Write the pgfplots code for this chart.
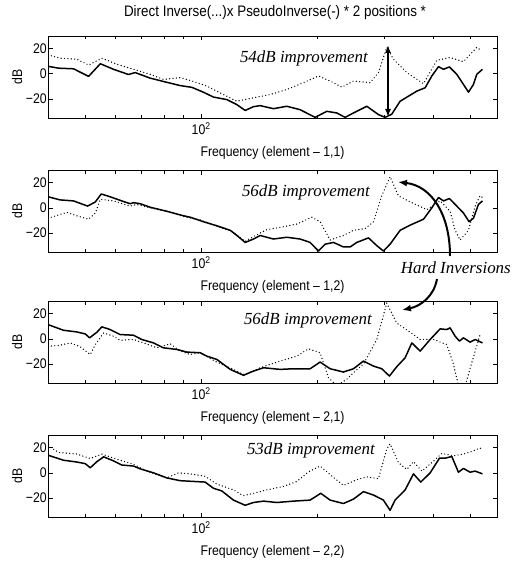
\documentclass[border=0pt]{standalone}
\usepackage{pgfplots}
\pgfplotsset{compat=1.18}
\usepackage{fontspec}
\setmainfont{Liberation Sans}[FakeStretch=0.88]
\newfontfamily\annotfont{Liberation Serif}
\usetikzlibrary{arrows.meta}

\pgfplotsset{
  mypanel/.style={
    width=449bp, height=82bp, scale only axis,
    xmin=40, xmax=587, ymin=-35, ymax=30,
    xtick={100}, xticklabels={10\textsuperscript{2}},
    minor xtick={50,60,70,80,90,200,300,400,500},
    ytick={-20,0,20}, yticklabels={−20,0,20},
    yticklabel style={inner xsep=1bp},
    tick align=inside, major tick length=4.5bp, minor tick length=3.5bp,
    tick style={black, line width=0.7pt},
    axis line style={line width=0.9pt},
    ylabel={dB},
    y label style={at={(axis description cs:-0.069,0.5)}, anchor=center},
    x label style={at={(axis description cs:0.5,-0.43)}, anchor=center},
    anchor=north west,
  },
  solidline/.style={black, line width=1.5pt, no marks, line join=round},
  dotline/.style={black, line width=1.4pt, no marks, line cap=round, dash pattern=on 0pt off 3.4pt},
}

\begin{document}
\fontsize{14}{16}\selectfont
\begin{tikzpicture}[x=1bp,y=1bp]
\path[use as bounding box] (0,0) rectangle (512,-565);
\node[font=\fontsize{15.3}{17}\selectfont] at (275,-13) {Direct Inverse(...)x PseudoInverse(-) * 2 positions *};

% element 1,1
\begin{axis}[xmode=log, mypanel, at={(48bp,-36bp)}, xlabel={Frequency (element -- 1,1)}]
\addplot[dotline] coordinates {
(40,15) (43,12.4) (47.5,11.6) (51,7) (55.2,12.4) (60.4,7.6) (66.7,3.6) (73.7,-0.4)
(79.8,-4.4) (88.2,-3) (95.5,-6) (103.4,-9.7) (112,-15) (123.8,-21.7) (136.8,-19)
(151.1,-16.4) (166.9,-12.4) (184.4,-7) (201.7,-1.7) (216.3,-5.7) (232,-10.5)
(248.7,-5.7) (274.8,-7) (288.8,1) (303.5,21) (315.9,11.6) (342.2,1) (378.2,-7.8)
(409.5,10.8) (443.4,12.9) (480.2,9.7) (520,21) (535.8,18.3)};
\addplot[solidline] coordinates {
(40,6) (42.6,4.5) (46.6,4) (51,-2) (54.7,8) (59.2,3.6) (64.7,-0.5) (67.4,1) (73.7,-3.4)
(81.4,-6.7) (88.2,-9.3) (94.6,-10.7) (101.4,-14.6) (107.6,-18.4) (116.6,-20.4)
(123.8,-24.4) (130.1,-29) (136.8,-26) (142.3,-25.2) (154.1,-27.6) (166.9,-25.7)
(180.7,-28.4) (197.8,-34.5) (212,-29.7) (225.1,-31) (236.6,-34.5) (248.7,-31)
(269.4,-25.7) (288.8,-32.3) (300.5,-34.5) (312.7,-32) (328.8,-21.7) (345.6,-17.7)
(363.3,-13.7) (382,-11) (397.4,-1.7) (413.6,5.7) (426.1,3.6) (441.6,5.5) (461.4,-0.4)
(480.2,-8.4) (494.8,-14.5) (509.8,-8.4) (520,-0.4) (538,3.6)};
\end{axis}

% element 1,2
\begin{axis}[xmode=log, mypanel, at={(48bp,-170bp)}, xlabel={Frequency (element -- 1,2)}]
\addplot[dotline] coordinates {
(40,-8.2) (44.8,-3.6) (47.5,-6.3) (51,-9) (53.1,-4.1) (54.7,6.8) (59.2,5.5) (65.4,1.4)
(68,2.7) (73.7,0) (81.4,-2.7) (90,-6.8) (99.4,-9.6) (109.8,-14.5) (121.3,-19.2)
(130.1,-26.6) (136.8,-22.7) (148.1,-17.3) (163.6,-15) (177.2,-12.9) (193.9,-7.4)
(203.7,-11) (216.3,-25.5) (234.2,-21.9) (248.7,-17.8) (266.7,-16.4) (280.4,-11)
(294.6,9.6) (309.6,24.7) (325.5,9.6) (349.1,4.7) (385.8,-1.4) (417.7,5.5) (443.4,-2.7)
(456.8,-17.8) (470.7,-25.5) (494.8,-17.8) (514.9,1.4) (530.5,9.6) (538,8.2)};
\addplot[solidline] coordinates {
(40,8.8) (43,6.3) (46.6,5.5) (50.7,1.4) (53.1,4.7) (55,11) (58,8.8) (62.2,5.5) (65.4,3.3)
(66.7,4.1) (69.4,3.3) (73.7,0.5) (81.4,-2.7) (90,-6.3) (93.6,-7.4) (101.4,-11)
(109.8,-14.2) (119,-17.8) (123.8,-21.9) (130.1,-27.4) (136.8,-24.7) (142.3,-21.9)
(154.1,-24.7) (166.9,-23.3) (180.7,-24.7) (191.9,-27.4) (201.7,-34.2) (209.9,-28.8)
(220.7,-27.4) (234.2,-31) (243.8,-31) (253.7,-27.4) (272.1,-23.8) (286,-30)
(297.5,-34.2) (309.6,-28.8) (328.8,-17.8) (349.1,-13.7) (378.2,-9) (397.4,0)
(413.6,8.2) (426.1,5.5) (441.6,7.4) (461.4,1.4) (480.2,-4.1) (496.7,-11) (509.8,-8.2)
(525.2,2.7) (538,5.5)};
\end{axis}

% element 2,1
\begin{axis}[xmode=log, mypanel, at={(48bp,-301bp)}, xlabel={Frequency (element -- 2,1)}]
\addplot[dotline] coordinates {
(40,-5.8) (42.6,-5.3) (45.7,-3.2) (48.5,-6.3) (51.5,-12.4) (53.1,-4.5) (55.8,4.7)
(59.2,2.1) (61.6,-1.1) (66.7,-0.5) (70.8,-3.2) (76.7,-7.1) (83.1,-3.9) (88.2,-9.7)
(93.6,-12.4) (99.4,-11) (106.6,-16.3) (109.8,-18.4) (121.3,-24.2) (128.8,-28.2)
(136.8,-25.5) (142.3,-22.9) (160.4,-17.6) (177.2,-13.7) (190,-7.9) (203.7,-11)
(214.1,-30.8) (225.1,-37) (238.9,-32) (248.7,-26.8) (264,-20) (286,-0.5) (303.5,28.4)
(322.2,12.6) (349.1,5.3) (370.7,-0.5) (401.4,-0.5) (434.6,-4.5) (452.3,-20) (466,-37)
(485,-37) (504.7,-18.9) (530.5,3.4)};
\addplot[solidline] coordinates {
(40,11.3) (43.9,6.8) (47.5,5.5) (50,3.9) (51.3,0.8) (53.6,5.3) (55.2,9.5) (58,7.4)
(61.6,3.4) (66.7,2.9) (70.1,-0.5) (75.2,-3.2) (79.8,-7.1) (86.5,-8.4) (91.8,-10.5)
(99.4,-11) (103.4,-13.7) (109.8,-16.3) (119,-24.2) (128.8,-28.9) (136.8,-25.5)
(145.2,-22.9) (160.4,-24.2) (173.7,-23.7) (191.9,-23.7) (203.7,-18.4) (216.3,-23.7)
(234.2,-26.3) (248.7,-23.7) (264,-17.6) (280.4,-21.6) (294.6,-23.7) (308.4,-29.5)
(322.2,-22.1) (338.8,-15) (352.6,-3.2) (370.7,-9.7) (393.5,-0.5) (417.7,7.9)
(434.6,7.4) (443.4,8.7) (456.8,2.1) (468.8,-1.8) (480.2,0.8) (499.7,-2.6) (514.9,-0.5)
(538,-3.2)};
\end{axis}

% element 2,2
\begin{axis}[xmode=log, mypanel, at={(48bp,-435bp)}, xlabel={Frequency (element -- 2,2)}]
\addplot[dotline] coordinates {
(40,21.6) (42.6,16.2) (47.5,14.9) (51.5,11.4) (55.2,14.9) (60.4,10.8) (66.7,6.8)
(72.3,1.4) (81.4,-4) (87.3,0) (93.6,-0.8) (102.4,-2.7) (109.8,-8.9) (121.3,-13.5)
(128.8,-18.1) (136.8,-16.2) (148.1,-13.5) (163.6,-10.8) (177.2,-6.8) (190,0.8)
(203.7,5.4) (216.3,-1.4) (234.2,-10) (253.7,-5.4) (269.4,-3.2) (288.8,-4.6)
(303.5,18.9) (309.6,23) (325.5,8.1) (342.2,2.7) (356.1,8.9) (374.4,1.4) (397.4,8.1)
(421.9,15.4) (452.3,13.5) (480.2,14.9) (504.7,17) (530.5,19.7) (538,17.6)};
\addplot[solidline] coordinates {
(40,14) (43.9,10) (47.5,8.6) (50,7.3) (51.5,4) (53.6,8.9) (55.8,12.7) (59.2,9.5)
(62.2,6.2) (66.7,5.4) (69.4,3.2) (75.2,0) (81.4,-4) (88.2,-6.2) (95.5,-6.8) (102.4,-7.3)
(107.6,-12.2) (113.1,-14.3) (121.3,-21.6) (130.1,-25.7) (136.8,-23.5) (145.2,-22.4)
(157.2,-23.5) (173.7,-22.4) (191.9,-21.6) (204.5,-16.2) (216.3,-21.6) (234.2,-24.3)
(248.7,-20.8) (264,-14.9) (280.4,-17.6) (297.5,-21.6) (309.6,-29.7) (319,-21.6)
(338.8,-13.5) (356.1,-0.8) (372.1,-7.3) (393.5,0) (416,11.6) (430.3,11.6) (447.8,13)
(466,0.5) (480.2,3.5) (499.7,0.5) (514.9,1.4) (538,-0.8)};
\end{axis}

% annotations
\begin{scope}[font=\annotfont\itshape\fontsize{17}{19}\selectfont]
\node[anchor=east, inner sep=0] at (368,-58) {54dB improvement};
\node[anchor=east, inner sep=0] at (370,-192) {56dB improvement};
\node[anchor=east, inner sep=0] at (372,-320) {56dB improvement};
\node[anchor=east, inner sep=0] at (375,-450) {53dB improvement};
\node[anchor=east, inner sep=0] at (511,-268) {Hard Inversions};
\end{scope}
\draw[line width=1.5pt, {Latex[length=8bp,width=6bp]}-{Latex[length=8bp,width=6bp]}] (388,-45) -- (388,-117);
\draw[line width=2pt, -{Latex[length=9bp,width=7bp]}] (450,-256) .. controls (450,-215) and (432,-186) .. (398,-182);
\draw[line width=2pt, -{Latex[length=9bp,width=7bp]}] (437,-279) .. controls (434,-296) and (421,-306) .. (402,-310);
\end{tikzpicture}
\end{document}
